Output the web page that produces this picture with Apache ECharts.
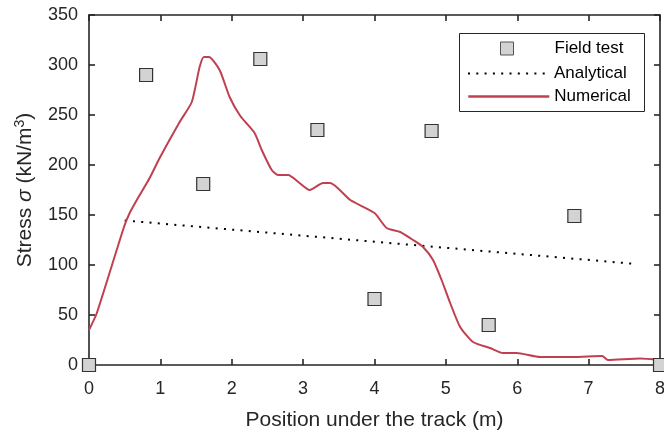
<!DOCTYPE html>
<html>
<head>
<meta charset="utf-8">
<script src="https://cdn.jsdelivr.net/npm/echarts@6/dist/echarts.min.js"></script>
<style>
  html, body { margin: 0; padding: 0; background: #fff; }
  #chart { width: 664px; height: 434px; }
</style>
</head>
<body>
<div id="chart"></div>
<script>
// field test (square markers)
const fieldX = [0, 0.8, 1.6, 2.4, 3.2, 4.0, 4.8, 5.6, 6.8, 8]
const fieldY = [0, 290, 181, 306, 235, 66, 234, 40, 149, 0]

// analytical (dotted line)
const anaX = [0.5, 7.67]
const anaY = [144.5, 101]

// numerical (red line)
const numX = [0, 0.11, 0.49, 0.57, 0.67, 0.85, 0.99, 1.27, 1.44, 1.55, 1.61, 1.68, 1.83, 1.97, 2.12, 2.32, 2.42, 2.56, 2.65, 2.79, 2.95, 3.09, 3.28, 3.38, 3.66, 4.0, 4.17, 4.36, 4.54, 4.68, 4.82, 4.94, 5.06, 5.2, 5.38, 5.62, 5.8, 5.99, 6.32, 6.78, 7.19, 7.27, 7.72, 8.0]
const numY = [35, 52, 138, 152, 165, 187, 207, 243, 263, 298, 308, 308, 295, 268, 249, 232, 215, 195, 190, 190, 182, 175, 182, 182, 165, 152, 137, 133, 125, 118, 105, 85, 62, 38, 23, 17, 12, 12, 8, 8, 9, 5, 6.5, 5]

const zip = (xs, ys) => xs.map((x, i) => [x, ys[i]])

const textColor = '#262626'
const font = 'Liberation Sans, Arial, Helvetica, sans-serif'

const baseAxis = {
  type: 'value',
  axisLine: { show: true, onZero: false, lineStyle: { color: textColor, width: 1.6 } },
  axisTick: { show: true, inside: true, length: 6, lineStyle: { color: textColor, width: 1.6 } },
  splitLine: { show: false }
}

const legendText = { fontFamily: font, fontSize: 17, color: '#000' }

const option = {
  animation: false,
  backgroundColor: '#fff',
  grid: { left: 89, right: 4, top: 15, bottom: 69, outerBoundsMode: 'none', containLabel: false },
  xAxis: [
    Object.assign({}, baseAxis, {
      min: 0, max: 8, interval: 1,
      name: 'Position under the track (m)',
      nameLocation: 'middle',
      nameGap: 45,
      nameTextStyle: { fontFamily: font, fontSize: 21, color: textColor },
      axisLabel: { fontFamily: font, fontSize: 18, color: textColor, margin: 15 }
    }),
    Object.assign({}, baseAxis, {
      position: 'top',
      min: 0, max: 8, interval: 1,
      axisLabel: { show: false }
    })
  ],
  yAxis: [
    Object.assign({}, baseAxis, {
      min: 0, max: 350, interval: 50,
      name: 'Stress {i|σ} (kN/m{sup|3})',
      nameLocation: 'middle',
      nameGap: 52,
      nameTextStyle: {
        fontFamily: font, fontSize: 21, color: textColor,
        rich: {
          i: { fontFamily: font, fontSize: 21, fontStyle: 'italic', color: textColor },
          sup: { fontFamily: font, fontSize: 14, color: textColor, verticalAlign: 'top', padding: [0, 0, 10, 0] }
        }
      },
      axisLabel: { fontFamily: font, fontSize: 18, color: textColor, margin: 11 }
    }),
    Object.assign({}, baseAxis, {
      position: 'right',
      min: 0, max: 350, interval: 50,
      axisLabel: { show: false }
    })
  ],
  legend: [
    {
      data: ['Field test'],
      left: 500, top: 40, padding: 0,
      itemWidth: 13, itemHeight: 13,
      itemStyle: { borderColor: '#555', borderWidth: 1 },
      textStyle: Object.assign({ padding: [0, 0, 0, 36] }, legendText)
    },
    {
      data: ['Analytical'],
      left: 467, top: 65, padding: 0,
      itemWidth: 81, itemHeight: 14,
      itemStyle: { opacity: 0, borderWidth: 0 },
      textStyle: Object.assign({ padding: [0, 0, 0, 0] }, legendText)
    },
    {
      data: ['Numerical'],
      left: 467, top: 88, padding: 0,
      itemWidth: 81, itemHeight: 14,
      itemStyle: { opacity: 0, borderWidth: 0 },
      lineStyle: { width: 2.5 },
      textStyle: Object.assign({ padding: [0, 0, 0, 0] }, legendText)
    }
  ],
  graphic: [
    {
      type: 'rect',
      left: 457, top: 31,
      shape: { width: 185, height: 78 },
      style: { fill: 'none', stroke: textColor, lineWidth: 1 },
      z: 1
    }
  ],
  series: [
    {
      name: 'Analytical',
      type: 'line',
      data: zip(anaX, anaY),
      symbol: 'none',
      lineStyle: { color: '#000', width: 2, type: [2, 6.3] },
      itemStyle: { color: '#000' },
      z: 3
    },
    {
      name: 'Numerical',
      type: 'line',
      data: zip(numX, numY),
      symbol: 'none',
      smooth: 0.2,
      lineStyle: { color: '#c0404f', width: 2 },
      itemStyle: { color: '#c0404f' },
      z: 4
    },
    {
      name: 'Field test',
      type: 'scatter',
      data: zip(fieldX, fieldY),
      symbol: 'rect',
      symbolSize: 13,
      clip: false,
      itemStyle: { color: '#d3d3d3', borderColor: '#333', borderWidth: 1.2, opacity: 1 },
      z: 5
    }
  ]
}

const myChart = echarts.init(document.getElementById('chart'), null, { renderer: 'canvas' })
myChart.setOption(option, true)
</script>
</body>
</html>
